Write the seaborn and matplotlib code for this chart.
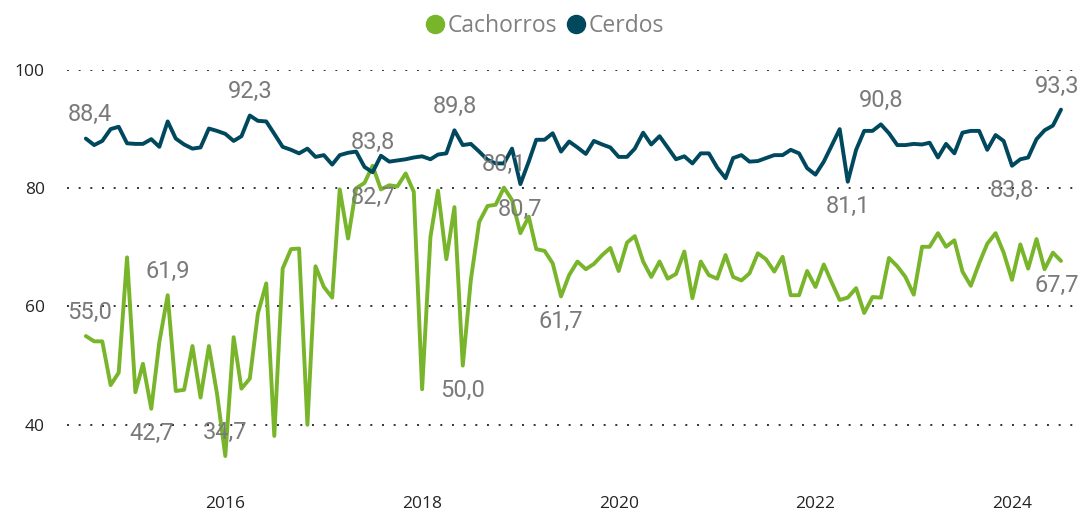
import matplotlib
matplotlib.use("Agg")
import matplotlib.pyplot as plt
import matplotlib.dates as mdates
from matplotlib.lines import Line2D
import pandas as pd
import seaborn as sns

# Monthly series, Aug 2014 - Jul 2024
start_month = "2014-08-01"

cachorros = [
    55.0, 54.1, 54.1, 46.7, 48.8, 68.3, 45.5, 50.3, 42.7, 54.0,
    61.9, 45.7, 45.9, 53.3, 44.6, 53.3, 45.3, 34.7, 54.8, 46.1,
    47.8, 58.8, 63.9, 38.1, 66.4, 69.7, 69.8, 40.0, 66.8, 63.3,
    61.5, 79.8, 71.5, 80.0, 80.9, 83.8, 79.8, 80.5, 80.3, 82.5,
    79.4, 46.0, 71.8, 79.6, 68.0, 76.8, 50.0, 64.5, 74.3, 77.0,
    77.2, 80.1, 78.0, 72.4, 75.2, 69.7, 69.4, 67.3, 61.7, 65.3,
    67.6, 66.3, 67.2, 68.7, 69.9, 66.0, 70.8, 71.9, 67.6, 65.0,
    67.6, 64.7, 65.5, 69.3, 61.4, 67.6, 65.3, 64.7, 68.7, 65.0,
    64.4, 65.6, 69.0, 68.0, 65.9, 68.4, 61.9, 61.9, 66.0, 63.3,
    67.1, 64.2, 61.1, 61.5, 63.1, 58.9, 61.6, 61.5, 68.2, 66.8,
    65.0, 62.0, 70.1, 70.1, 72.4, 70.1, 71.2, 65.9, 63.5, 67.3,
    70.6, 72.4, 69.1, 64.5, 70.5, 66.4, 71.4, 66.3, 69.1, 67.7,
]

cerdos = [
    88.4, 87.3, 88.0, 90.0, 90.4, 87.6, 87.5, 87.5, 88.3, 87.0,
    91.3, 88.4, 87.4, 86.7, 86.9, 90.1, 89.7, 89.2, 88.0, 88.8,
    92.3, 91.4, 91.3, 89.2, 87.0, 86.5, 85.9, 86.7, 85.3, 85.6,
    84.0, 85.6, 86.0, 86.2, 83.6, 82.7, 85.5, 84.5, 84.7, 84.9,
    85.2, 85.4, 84.9, 85.7, 85.9, 89.8, 87.3, 87.5, 86.2, 84.8,
    84.2, 84.2, 86.7, 80.7, 84.5, 88.2, 88.2, 89.3, 86.2, 87.9,
    86.9, 85.8, 88.0, 87.4, 86.9, 85.3, 85.3, 86.7, 89.4, 87.4,
    88.8, 86.9, 84.9, 85.4, 84.2, 85.9, 85.9, 83.5, 81.7, 85.1,
    85.6, 84.5, 84.6, 85.1, 85.6, 85.6, 86.5, 85.9, 83.4, 82.3,
    84.5, 87.1, 90.0, 81.1, 86.5, 89.7, 89.7, 90.8, 89.3, 87.3,
    87.3, 87.5, 87.4, 87.7, 85.2, 87.5, 85.9, 89.4, 89.7, 89.7,
    86.5, 89.0, 88.0, 83.8, 84.9, 85.2, 88.3, 89.8, 90.6, 93.3,
]

series_names = ["Cachorros", "Cerdos"]
series_colors = ["#78B52A", "#00485E"]

# Months (by index) carrying a value label, above or below the line
label_points = {
    "Cachorros": {"above": [0, 10, 17, 35, 51], "below": [8, 46, 58, 119]},
    "Cerdos": {"above": [0, 20, 45, 97, 119], "below": [35, 53, 93, 113]},
}

y_ticks = [40, 60, 80, 100]
x_tick_years = [2016, 2018, 2020, 2022, 2024]

months = pd.date_range(start_month, periods=len(cachorros), freq="MS")
df = pd.concat([
    pd.DataFrame({"Mes": months, "Valor": cachorros, "Serie": "Cachorros"}),
    pd.DataFrame({"Mes": months, "Valor": cerdos, "Serie": "Cerdos"}),
], ignore_index=True)

sns.set_theme(style="white")
plt.rcParams["font.family"] = ["Open Sans", "DejaVu Sans"]

fig = plt.figure(figsize=(10.85, 5.13), dpi=100)
ax = fig.add_axes([67 / 1085, 1 - 472 / 513, (1075 - 67) / 1085, (472 - 70) / 513])

palette = dict(zip(series_names, series_colors))
sns.lineplot(data=df, x="Mes", y="Valor", hue="Serie", hue_order=series_names,
             palette=palette, linewidth=2.8, legend=False, ax=ax)

ax.set_ylim(32, 100)
ax.set_xlim(months[0] - pd.Timedelta(days=70), months[-1] + pd.Timedelta(days=52))
ax.set_yticks(y_ticks)
ax.set_xticks([pd.Timestamp(f"{y}-01-01") for y in x_tick_years])
ax.xaxis.set_major_formatter(mdates.DateFormatter("%Y"))
ax.set_xlabel("")
ax.set_ylabel("")

ax.grid(axis="y", linestyle=(0, (1, 5)), linewidth=1.4, color="#333333")
ax.grid(axis="x", visible=False)
for s in ax.spines.values():
    s.set_visible(False)
ax.tick_params(axis="both", length=0, labelsize=12.5, colors="#252423")
ax.tick_params(axis="y", pad=16)
ax.tick_params(axis="x", pad=17)

# value labels
values = {"Cachorros": cachorros, "Cerdos": cerdos}
last = len(cachorros) - 1
for name in series_names:
    for where, idxs in label_points[name].items():
        for i in idxs:
            v = values[name][i]
            dx = 3 if i == 0 else (-3 if i == last else 0)
            dy = 17 if where == "above" else -18
            ax.annotate(f"{v:.1f}".replace(".", ","), xy=(months[i], v),
                        xytext=(dx, dy), textcoords="offset points",
                        ha="center", va="center", fontsize=17,
                        color="#7A7A7A", family=["Roboto", "DejaVu Sans"],
                        annotation_clip=False)

handles = [Line2D([], [], linestyle="", marker="o", markersize=13,
                  markerfacecolor=c, markeredgecolor=c) for c in series_colors]
fig.legend(handles, series_names, loc="center", bbox_to_anchor=(0.501, 1 - 25.7 / 513),
           ncol=2, frameon=False, fontsize=16.5, labelcolor="#808080",
           handletextpad=0.05, columnspacing=0.35, handlelength=1.0)

fig.savefig("out.png", dpi=100)
